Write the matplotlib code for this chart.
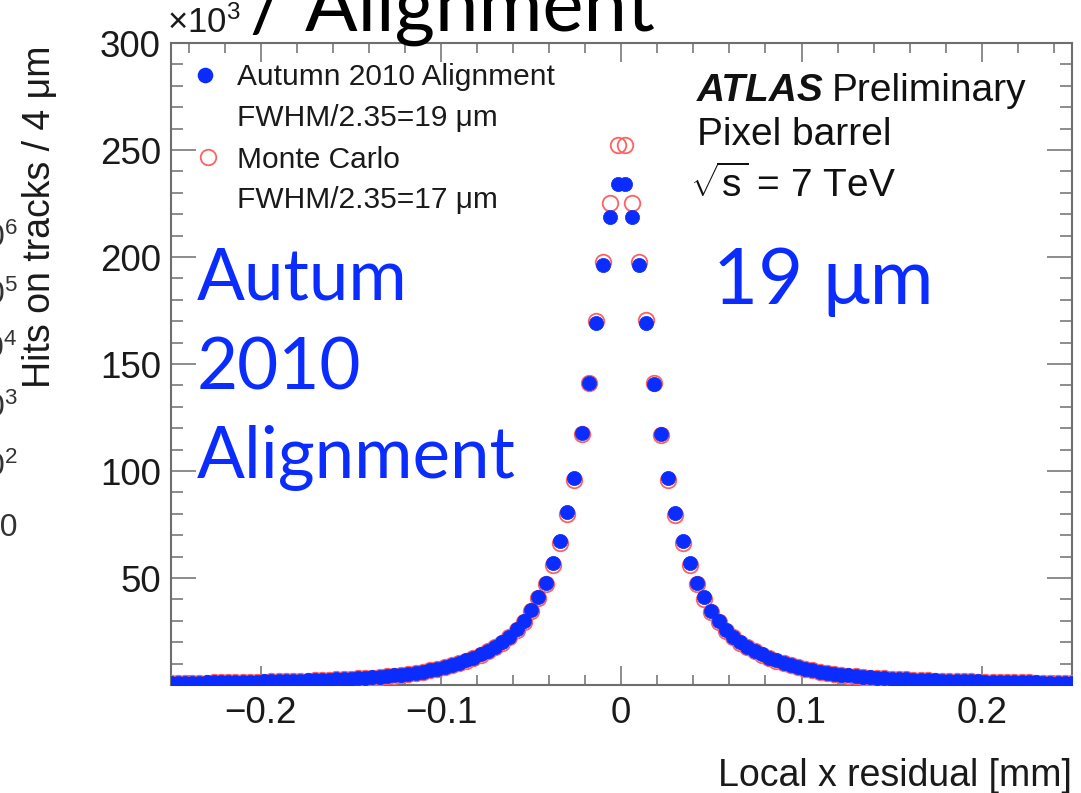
import numpy as np
import matplotlib
matplotlib.use("Agg")
import matplotlib.pyplot as plt
from matplotlib.ticker import MultipleLocator, FixedLocator

# ---------------- data (thousands of hits per 4 um bin) ----------------
bin_width = 0.004  # mm
# right half: bin centres 0.002 ... 0.250
data_right = [234.0, 218.7, 196.3, 169.2, 140.8, 117.5, 96.7, 80.6, 67.3, 56.8,
              47.7, 40.9, 34.8, 29.7, 25.7, 22.4, 20.0, 17.8, 16.0, 14.3,
              12.8, 11.5, 10.3, 9.3, 8.4, 7.6, 6.9, 6.3, 5.8, 5.3,
              4.9, 4.5, 4.2, 3.9, 3.6, 3.4, 3.2, 3.0, 2.8, 2.65,
              2.5, 2.4, 2.25, 2.15, 2.05, 1.95, 1.85, 1.8, 1.7, 1.65,
              1.6, 1.5, 1.45, 1.4, 1.35, 1.3, 1.25, 1.2, 1.15, 1.1,
              1.1, 1.05, 1.0]
# left half: bin centres -0.250 ... -0.002
data_left = [1.0, 1.05, 1.1, 1.1, 1.15, 1.2, 1.25, 1.3, 1.35, 1.4,
             1.45, 1.5, 1.6, 1.65, 1.7, 1.8, 1.85, 1.95, 2.05, 2.15,
             2.25, 2.4, 2.5, 2.65, 2.8, 3.0, 3.2, 3.4, 3.6, 3.9,
             4.2, 4.5, 4.9, 5.3, 5.8, 6.3, 6.9, 7.6, 8.4, 9.3,
             10.3, 11.5, 12.8, 14.3, 16.0, 17.8, 20.0, 22.5, 26.0, 30.0,
             35.0, 41.0, 47.8, 56.8, 67.3, 80.8, 96.8, 117.6, 141.0, 169.0,
             196.3, 218.7, 234.0]
mc_right = [252.3, 225.2, 197.5, 170.5, 141.0, 117.0, 95.8, 79.5, 66.5, 56.0,
            47.0, 40.3, 34.3, 29.3, 25.4, 22.2, 19.8, 17.6, 15.8, 14.1,
            12.6, 11.3, 10.2, 9.2, 8.3, 7.5, 6.8, 6.2, 5.7, 5.2,
            4.8, 4.4, 4.1, 3.8, 3.5, 3.3, 3.1, 2.9, 2.75, 2.6,
            2.45, 2.35, 2.2, 2.1, 2.0, 1.9, 1.8, 1.75, 1.65, 1.6,
            1.55, 1.45, 1.4, 1.35, 1.3, 1.25, 1.2, 1.15, 1.1, 1.05,
            1.05, 1.0, 0.95]
mc_left = [0.95, 1.0, 1.05, 1.05, 1.1, 1.15, 1.2, 1.25, 1.3, 1.35,
           1.4, 1.45, 1.55, 1.6, 1.65, 1.75, 1.8, 1.9, 2.0, 2.1,
           2.2, 2.35, 2.45, 2.6, 2.75, 2.9, 3.1, 3.3, 3.5, 3.8,
           4.1, 4.4, 4.8, 5.2, 5.7, 6.2, 6.8, 7.5, 8.3, 9.2,
           10.2, 11.3, 12.6, 14.1, 15.8, 17.6, 19.8, 22.3, 25.6, 29.6,
           34.5, 40.5, 47.1, 56.0, 66.5, 79.7, 95.9, 117.1, 141.2, 170.3,
           197.5, 225.2, 252.3]

def centres_left(n):
    return -bin_width / 2 - bin_width * np.arange(n)[::-1]

def centres_right(n):
    return bin_width / 2 + bin_width * np.arange(n)

x_data = np.concatenate([centres_left(len(data_left)), centres_right(len(data_right))])
y_data = np.array(data_left + data_right)
x_mc = np.concatenate([centres_left(len(mc_left)), centres_right(len(mc_right))])
y_mc = np.array(mc_left + mc_right)

legend_labels = ["Autumn 2010 Alignment", "FWHM/2.35=19 \u03bcm",
                 "Monte Carlo", "FWHM/2.35=17 \u03bcm"]
y_ticks = [50, 100, 150, 200, 250, 300]
x_ticks = [-0.2, -0.1, 0, 0.1, 0.2]
x_tick_labels = ["\u22120.2", "\u22120.1", "0", "0.1", "0.2"]
edge_labels = [r"$10^{6}$", r"$10^{5}$", r"$10^{4}$", r"$10^{3}$", r"$10^{2}$", "10"]

BLUE = "#0a2cff"
RED = "#ff6060"
FRAME = "#6e6e6e"
HELV = ["Liberation Sans", "DejaVu Sans"]
GILL = ["Lato", "DejaVu Sans"]

plt.rcParams["font.family"] = HELV
plt.rcParams["mathtext.fontset"] = "custom"
plt.rcParams["mathtext.rm"] = "Liberation Sans"
plt.rcParams["mathtext.it"] = "Liberation Sans:italic"
plt.rcParams["mathtext.sf"] = "Liberation Sans"

W, H = 1081, 793
fig = plt.figure(figsize=(W / 100, H / 100), dpi=100)
ax = fig.add_axes([170.5 / W, 1 - 685 / H, 901.5 / W, 642 / H])

ax.plot(x_mc, y_mc, linestyle="none", marker="o", markersize=11.2,
        markerfacecolor="none", markeredgecolor=RED, markeredgewidth=1.3, zorder=3)
ax.plot(x_data, y_data, linestyle="none", marker="o", markersize=10.2,
        markerfacecolor=BLUE, markeredgecolor=BLUE, markeredgewidth=0.5, zorder=4)

ax.set_xlim(-0.25, 0.25)
ax.set_ylim(0, 300)
ax.xaxis.set_major_locator(FixedLocator(x_ticks))
ax.set_xticklabels(x_tick_labels)
ax.xaxis.set_minor_locator(MultipleLocator(0.02))
ax.yaxis.set_major_locator(FixedLocator(y_ticks))
ax.set_yticklabels([str(v) for v in y_ticks])
ax.yaxis.set_minor_locator(MultipleLocator(10))

for s in ax.spines.values():
    s.set_color(FRAME)
    s.set_linewidth(1.5)
ax.tick_params(axis="both", which="both", direction="in", top=True, right=True,
               color=FRAME, width=1.1, labelsize=26.5, labelcolor="#1a1a1a")
ax.tick_params(axis="y", which="major", length=18, pad=7)
ax.tick_params(axis="y", which="minor", length=8.5)
ax.tick_params(axis="x", which="major", length=14, pad=8)
ax.tick_params(axis="x", which="minor", length=7)

# axis titles (ROOT style, aligned at the axis ends)
fig.text(1072 / W, 1 - 776 / H, "Local x residual [mm]", ha="right", va="center",
         fontsize=27, color="#1a1a1a")
fig.text(40 / W, 1 - 45 / H, "Hits on tracks / 4 \u03bcm", rotation=90,
         ha="center", va="top", fontsize=27, color="#1a1a1a")
fig.text(167 / W, 1 - 33 / H, r"$\times10^{3}$", ha="left", va="baseline",
         fontsize=25, color="#1a1a1a")

# legend (drawn manually, ROOT style)
ax.plot([0.038], [0.950], transform=ax.transAxes, marker="o", markersize=10.2,
        color=BLUE, linestyle="none", clip_on=False)
ax.plot([0.042], [0.822], transform=ax.transAxes, marker="o", markersize=11.2,
        markerfacecolor="none", markeredgecolor=RED, markeredgewidth=1.3,
        linestyle="none", clip_on=False)
leg_y = [0.947, 0.883, 0.818, 0.755]
for lab, yy in zip(legend_labels, leg_y):
    ax.text(0.074, yy, lab, transform=ax.transAxes, ha="left", va="center",
            fontsize=21.5, color="#1a1a1a")

# ATLAS label
t_atlas = ax.text(0.584, 0.925, "ATLAS", transform=ax.transAxes, ha="left",
                  va="center", fontsize=28, fontweight="bold",
                  fontstyle="italic", color="#111111")
ax.annotate("Preliminary", xy=(1, 0.5), xycoords=t_atlas, xytext=(6, 0),
            textcoords="offset points", ha="left", va="center",
            fontsize=28, color="#111111")
ax.text(0.584, 0.857, "Pixel barrel", transform=ax.transAxes, ha="left", va="center",
        fontsize=28, color="#111111")
ax.text(0.576, 0.779, r"$\sqrt{\mathrm{s}}$ = 7 TeV", transform=ax.transAxes,
        ha="left", va="center", fontsize=28, color="#111111")

# slide overlay texts
for txt, yb in [("Autum", 300), ("2010", 389), ("Alignment", 478)]:
    fig.text(197 / W, 1 - yb / H, txt, ha="left", va="baseline", fontsize=51,
             color=BLUE, family=GILL)
fig.text(713 / W, 1 - 304 / H, "19 \u03bcm", ha="left", va="baseline", fontsize=56,
         color=BLUE, family=GILL)
fig.text(250 / W, 1 - 31 / H, "/ Alignment", ha="left", va="baseline", fontsize=56,
         color="black", family=GILL)

# cut-off labels of a neighbouring plot at the left edge
for lab, yy in zip(edge_labels, [238, 295, 349, 408, 467, 528]):
    fig.text(18 / W, 1 - yy / H, lab, ha="right", va="center", fontsize=23,
             color="#333333")

fig.savefig("out.png", dpi=100)
